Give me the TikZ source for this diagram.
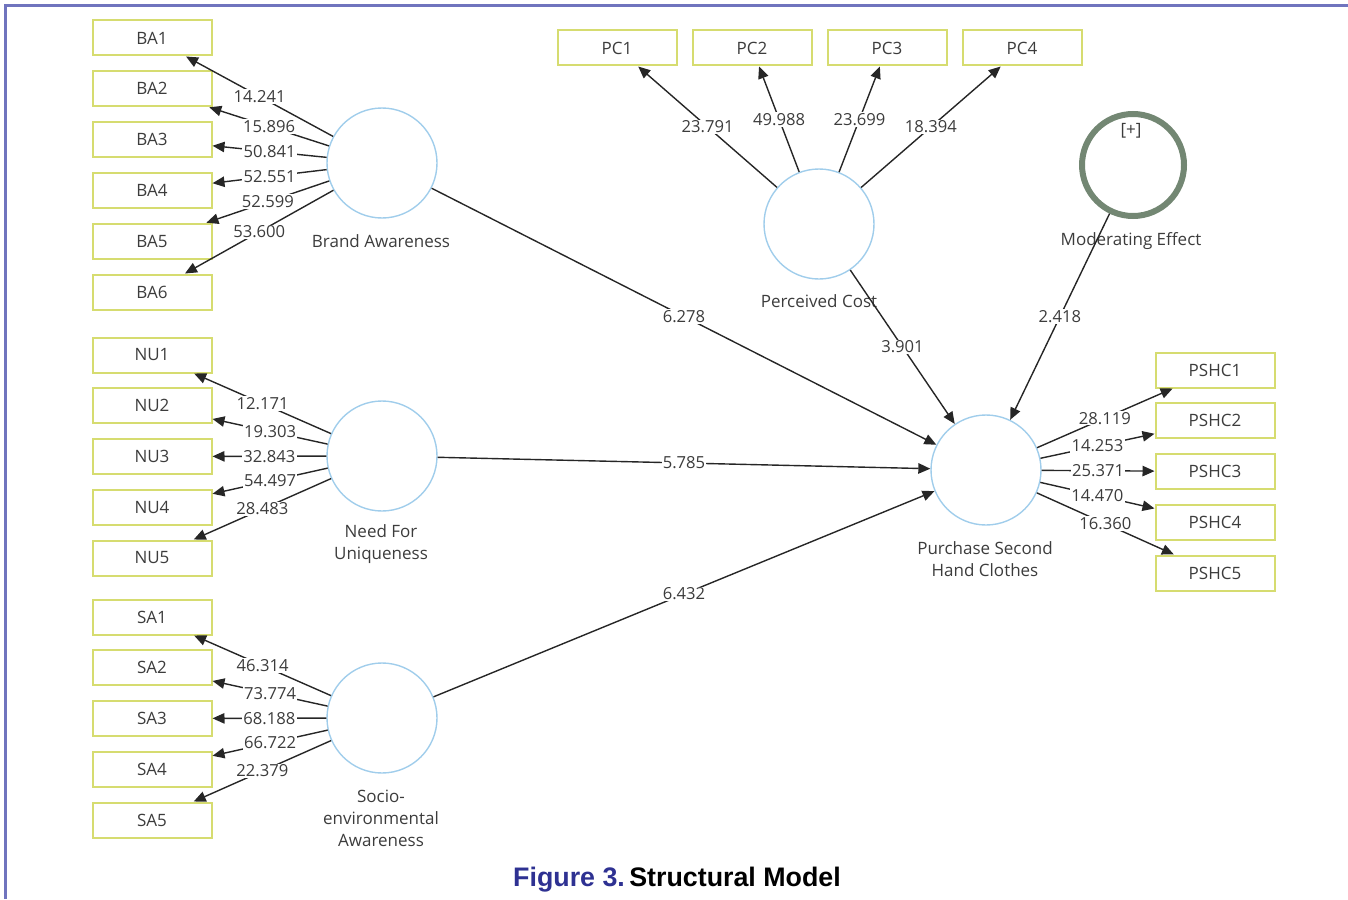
\documentclass[tikz,border=0pt]{standalone}
\usepackage{fontspec}
\setmainfont{Open Sans}
\newfontfamily\capfont{Liberation Sans}
\usetikzlibrary{arrows.meta}
\definecolor{boxc}{RGB}{214,220,112}
\definecolor{circc}{RGB}{160,205,235}
\definecolor{modc}{RGB}{115,135,115}
\definecolor{framec}{RGB}{112,116,190}
\definecolor{txt}{RGB}{60,60,60}
\definecolor{capblue}{RGB}{46,49,146}
\begin{document}
\begin{tikzpicture}[x=0.5pt,y=-0.5pt,
 ind/.style={draw=boxc,line width=1pt,minimum width=59.5pt,minimum height=17.5pt,inner sep=0pt,font=\fontsize{8.5}{10}\selectfont,text=txt},
 lv/.style={circle,draw=circc,line width=0.7pt,minimum size=55pt,inner sep=0pt},
 modlv/.style={circle,draw=modc,line width=3pt,minimum size=51pt,inner sep=0pt},
 lvname/.style={font=\fontsize{8.5}{11}\selectfont,text=txt,align=center},
 lbl/.style={fill=white,inner sep=0.6pt,font=\fontsize{8.3}{10}\selectfont,text=txt},
 arr/.style={-{Triangle[length=6pt,width=5.2pt]},line width=0.7pt,draw=black!85}]
\useasboundingbox (0,0) rectangle (1348,899);
\draw[framec,line width=1.5pt] (5,899) -- (5,6) -- (1348,6);

% latent variables
\node[lv] (ba) at (382,163) {};
\node[lv] (nu) at (382,456) {};
\node[lv] (sa) at (382,718) {};
\node[lv] (pc) at (819,224) {};
\node[lv] (pshc) at (986,470) {};
\node[modlv] (mod) at (1133,165) {};

% names
\node[lvname] (baname) at (381,241) {Brand Awareness};
\node[lvname] (nuname) at (381,544) {Need For\\Uniqueness};
\node[lvname] (saname) at (381,818) {Socio-\\environmental\\Awareness};
\node[lvname] (pcname) at (819,301) {Perceived Cost};
\node[lvname] (modname) at (1131,241) {Moderating Effect};
\node[lvname] (pshcname) at (985,559) {Purchase Second\\Hand Clothes};
\node[lvname] (plus) at (1131,131) {[+]};

% indicators
\foreach \i in {1,...,6} \node[ind] (BA\i) at (152,{38+50.8*(\i-1)}) {BA\i};
\foreach \i in {1,...,5} \node[ind] (NU\i) at (152,{355+50.75*(\i-1)}) {NU\i};
\foreach \i in {1,...,5} \node[ind] (SA\i) at (152,{617+50.75*(\i-1)}) {SA\i};
\foreach \i in {1,...,4} \node[ind] (PC\i) at ({617+135*(\i-1)},48) {PC\i};
\foreach \i in {1,...,5} \node[ind] (PSHC\i) at (1215,{370+50.75*(\i-1)}) {PSHC\i};

% outer loadings
\foreach \i/\v in {1/14.241,2/15.896,3/50.841,4/52.551,5/52.599,6/53.600}
  \draw[arr] (ba) -- node[lbl]{\v} (BA\i);
\foreach \i/\v in {1/12.171,2/19.303,3/32.843,4/54.497,5/28.483}
  \draw[arr] (nu) -- node[lbl]{\v} (NU\i);
\foreach \i/\v in {1/46.314,2/73.774,3/68.188,4/66.722,5/22.379}
  \draw[arr] (sa) -- node[lbl]{\v} (SA\i);
\foreach \i/\v in {1/23.791,2/49.988,3/23.699,4/18.394}
  \draw[arr] (pc) -- node[lbl]{\v} (PC\i);
\foreach \i/\v in {1/28.119,2/14.253,3/25.371,4/14.470,5/16.360}
  \draw[arr] (pshc) -- node[lbl]{\v} (PSHC\i);

% structural paths
\draw[arr] (ba) -- node[lbl]{6.278} (pshc);
\draw[arr] (nu) -- node[lbl]{5.785} (pshc);
\draw[arr] (sa) -- node[lbl]{6.432} (pshc);
\draw[arr] (pc) -- node[lbl]{3.901} (pshc);
\draw[arr] (mod) -- node[lbl]{2.418} (pshc);

% caption
\node[font=\capfont\bfseries\fontsize{13.4}{16}\selectfont] (cap) at (677,880) {\textcolor{capblue}{Figure 3.}\,Structural Model};
\end{tikzpicture}
\end{document}
